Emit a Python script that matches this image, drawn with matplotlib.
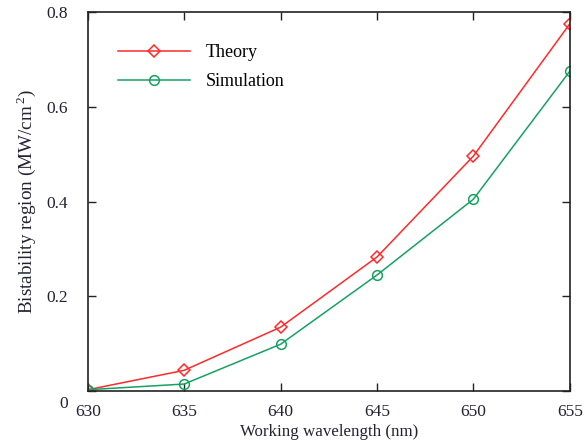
import matplotlib
matplotlib.use("Agg")
import matplotlib.pyplot as plt
import matplotlib.transforms as mtransforms

plt.rcParams['font.family'] = ['Liberation Serif', 'DejaVu Serif']
plt.rcParams['mathtext.fontset'] = 'custom'
plt.rcParams['mathtext.rm'] = 'Liberation Serif'

wavelength = [630, 635, 640, 645, 650, 655]
theory = [0.003, 0.044, 0.135, 0.283, 0.496, 0.775]
simulation = [0.003, 0.015, 0.099, 0.245, 0.405, 0.675]

fig = plt.figure(figsize=(5.85, 4.45), dpi=100)
ax = fig.add_axes([0.150, 0.121, 0.824, 0.852])

ax.plot(wavelength, theory, color='#ff2a2a', lw=1.1, marker='D', ms=6.5,
        mfc='none', mec='#ff2a2a', mew=1.1, label='Theory')
ax.plot(wavelength, simulation, color='#17a063', lw=1.1, marker='o', ms=7,
        mfc='none', mec='#17a063', mew=1.1, label='Simulation')

ax.set_xlim(630, 655)
ax.set_ylim(0, 0.8)
ax.set_xticks(wavelength)
ax.set_yticks([0, 0.2, 0.4, 0.6, 0.8])
ax.set_yticklabels(['0', '0.2', '0.4', '0.6', '0.8'])
ax.tick_params(direction='in', top=True, right=True, labelsize=12.5,
               length=6, width=1, colors='#222222', labelcolor='#222233')
ax.tick_params(axis='x', pad=9)
ax.tick_params(axis='y', pad=14)
for s in ax.spines.values():
    s.set_linewidth(1.2)
    s.set_color('#222222')

# the "0" label sits a little lower in the original
zero = ax.get_yticklabels()[0]
zero.set_transform(zero.get_transform() + mtransforms.ScaledTranslation(0, -8 / 72, fig.dpi_scale_trans))

ax.set_xlabel('Working wavelength (nm)', fontsize=12.2, color='#222233', labelpad=3)
ax.set_ylabel('Bistability region (MW/cm$^{\\,2}$)', fontsize=13.8, color='#222233', labelpad=6)

ax.legend(loc='upper left', frameon=False, fontsize=13, handlelength=3.95,
          bbox_to_anchor=(0.03, 0.958), labelspacing=0.68, handletextpad=0.9)

fig.savefig('out.png', dpi=100)
